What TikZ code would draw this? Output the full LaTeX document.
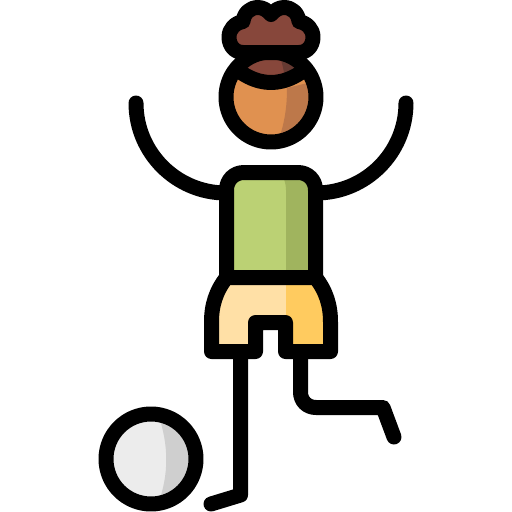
\documentclass[tikz,border=0pt]{standalone}
\definecolor{hairc}{HTML}{87473B}
\definecolor{haird}{HTML}{663A32}
\definecolor{skinc}{HTML}{E09150}
\definecolor{skind}{HTML}{BD784A}
\definecolor{shirtc}{HTML}{BBD174}
\definecolor{shirtd}{HTML}{A0B45E}
\definecolor{shortc}{HTML}{FFE0A6}
\definecolor{shortd}{HTML}{FFCB5F}
\definecolor{ballc}{HTML}{ECECEC}
\definecolor{balld}{HTML}{CFCFCF}
\tikzset{ol/.style={draw=black,line width=15pt,line cap=round,line join=round}}
\begin{document}
\begin{tikzpicture}[x=1pt,y=-1pt]
\useasboundingbox (0,0) rectangle (512,512);
% arms
\draw[ol] (136,103) .. controls (136,152.7) and (176.3,193) .. (226,193);
\draw[ol] (406,103) .. controls (406,152.7) and (365.7,193) .. (316,193);
% legs
\draw[ol] (240.5,351) -- (240.5,495) -- (211,504);
\draw[ol] (300.5,351) -- (300.5,392) .. controls (300.5,401) and (307,407.5) .. (316,407.5) -- (383,407.5) -- (394,437);
% ball
\fill[ballc] (151,459) circle[radius=45];
\begin{scope}
\clip (151,459) circle[radius=45];
\fill[balld] (158,414) .. controls (169,445) and (169,475) .. (158,504) -- (200,504) -- (200,414) -- cycle;
\end{scope}
\draw[ol] (151,459) circle[radius=45];
% head
\fill[skinc] (271,97) circle[radius=45];
\begin{scope}
\clip (271,97) circle[radius=45];
\fill[skind] (287,88) .. controls (287,110) and (284,125) .. (277,145) -- (320,145) -- (320,80) -- cycle;
\fill[hairc] (232,66) .. controls (258,88) and (284,88) .. (310,66) -- (310,40) -- (232,40) -- cycle;
\fill[haird] (279,55) .. controls (282,62) and (284,70) .. (285,80) -- (310,70) -- (310,50) -- cycle;
\draw[ol] (226,60) .. controls (256,90) and (286,90) .. (316,60);
\end{scope}
\draw[ol] (271,97) circle[radius=45];
% hair
\draw[ol,fill=hairc] (243,52.5) .. controls (235,52.5) and (229,46) .. (229,37)
 .. controls (229,29) and (235,23) .. (243,21.5)
 .. controls (244,13) and (250,7.5) .. (258,7.5)
 .. controls (263,7.5) and (267,10) .. (271,14.5)
 .. controls (275,10) and (279,7.5) .. (284,7.5)
 .. controls (292,7.5) and (298,13) .. (299,21.5)
 .. controls (307,23) and (313,29) .. (313,37)
 .. controls (313,46) and (307,52.5) .. (299,52.5) -- cycle;
% shirt
\fill[shirtc] (226.5,277.5) -- (226.5,190) .. controls (226.5,180) and (234,172.5) .. (244,172.5) -- (298,172.5) .. controls (308,172.5) and (315.5,180) .. (315.5,190) -- (315.5,277.5) -- cycle;
\fill[shirtd] (280,172.5) .. controls (284,178) and (286,183) .. (286,190) -- (286,277.5) -- (315.5,277.5) -- (315.5,190) .. controls (315.5,180) and (308,172.5) .. (298,172.5) -- cycle;
\draw[ol] (226.5,277.5) -- (226.5,190) .. controls (226.5,180) and (234,172.5) .. (244,172.5) -- (298,172.5) .. controls (308,172.5) and (315.5,180) .. (315.5,190) -- (315.5,277.5);
% shorts
\fill[shortc] (226.5,277.5) .. controls (216,291) and (211.5,305) .. (211.5,322) -- (211.5,351.5) -- (255.5,351.5) -- (255.5,322.5) -- (285.5,322.5) -- (285.5,351.5) -- (330.5,351.5) -- (330.5,322) .. controls (330.5,305) and (326,291) .. (315.5,277.5) -- cycle;
\fill[shortd] (286,277.5) -- (286,351.5) -- (330.5,351.5) -- (330.5,322) .. controls (330.5,305) and (326,291) .. (315.5,277.5) -- cycle;
\draw[ol] (226.5,277.5) .. controls (216,291) and (211.5,305) .. (211.5,322) -- (211.5,351.5) -- (255.5,351.5) -- (255.5,322.5) -- (285.5,322.5) -- (285.5,351.5) -- (330.5,351.5) -- (330.5,322) .. controls (330.5,305) and (326,291) .. (315.5,277.5) -- cycle;
\end{tikzpicture}
\end{document}
